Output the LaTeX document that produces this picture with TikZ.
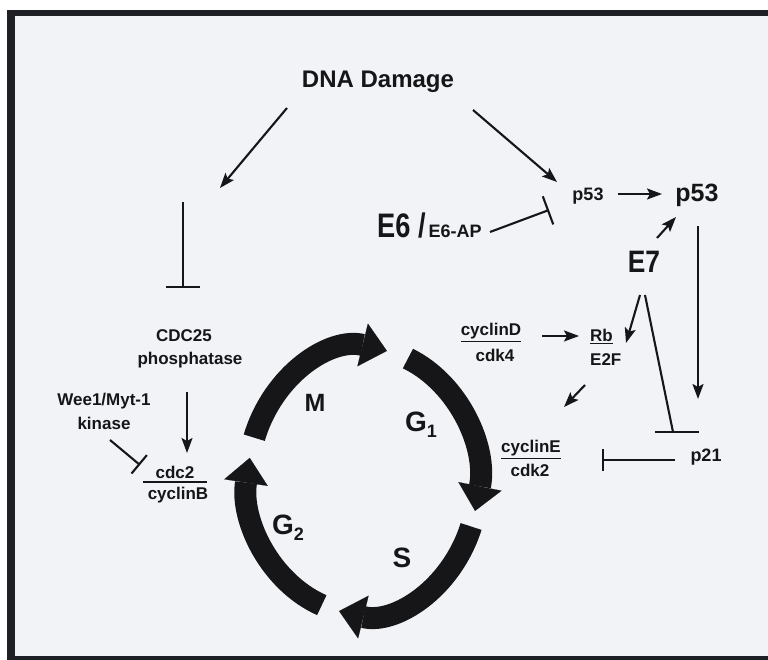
\documentclass[tikz,border=0pt]{standalone}
\usepackage{fontspec}
\setmainfont{Liberation Sans}
\usepackage{graphicx}
\usetikzlibrary{arrows.meta}
\definecolor{paper}{RGB}{241,243,246}
\definecolor{ink}{RGB}{22,22,24}
\definecolor{band}{RGB}{30,32,38}
\newcommand\fs[1]{\fontsize{#1}{#1}\selectfont}
\tikzset{
  lbl/.style={font=\bfseries, text=ink, inner sep=0pt, align=center},
  act/.style={draw=ink, line width=2.1pt, -{Stealth[length=15pt,width=11pt,inset=3pt]}},
  inh/.style={draw=ink, line width=2.1pt, -{Bar[width=#1]}},
  plain/.style={draw=ink, line width=2.1pt},
  phase/.style={draw=ink, line width=22pt, -{Triangle[length=25pt,width=44pt,line width=0.1pt]}},
}
\begin{document}
\begin{tikzpicture}[x=1pt,y=1pt]
\useasboundingbox (0,0) rectangle (768,660);
\fill[white] (-10,-10) rectangle (778,670);
\fill[paper] (7,-10) rectangle (778,650);
\fill[band] (7,644) rectangle (778,650);
\fill[band] (7,-10) rectangle (15,650);
\fill[band] (7,-10) rectangle (778,4);

% labels
\node[lbl, anchor=base] (dna) at (378,572) {\fs{24}DNA Damage};
\node[lbl, anchor=base west] (e6) at (377,422) {\fs{34}\scalebox{0.8}[1]{E6 /}\hspace{3pt}\fs{18}E6-AP};
\node[lbl, anchor=base] (p53s) at (588,459) {\fs{18}p53};
\node[lbl, anchor=base] (p53b) at (697,458) {\fs{25}p53};
\node[lbl, anchor=base] (e7) at (644,387) {\fs{31}\scalebox{0.85}[1]{E7}};
\node[lbl, anchor=base west] (rb) at (590,318) {\fs{17}\underline{Rb}};
\node[lbl, anchor=base west] (e2f) at (590,294) {\fs{17}E2F};
\node[lbl, anchor=base] (cycd) at (491,324) {\fs{17}\underline{cyclinD}};
\node[lbl, anchor=base] (cdk4) at (495,298) {\fs{17}cdk4};
\node[lbl, anchor=base] (cyce) at (531,207) {\fs{17}\underline{cyclinE}};
\node[lbl, anchor=base] (cdk2) at (530,183) {\fs{17}cdk2};
\node[lbl, anchor=base] (p21) at (706,198) {\fs{18}p21};
\node[lbl, anchor=base] (cdc25) at (184,318) {\fs{17}CDC25};
\node[lbl, anchor=base] (phos) at (190,295) {\fs{17}phosphatase};
\node[lbl, anchor=base] (wee) at (104,254) {\fs{17}Wee1/Myt-1};
\node[lbl, anchor=base] (kin) at (104,230) {\fs{17}kinase};
\node[lbl, anchor=base] (cdc2) at (175,181) {\fs{17}cdc2};
\node[lbl, anchor=base] (cycb) at (178,160) {\fs{17}cyclinB};

% phase labels
\node[lbl, anchor=base] (m) at (315,248) {\fs{25}M};
\node[lbl, anchor=base west] (g1) at (405,228) {\fs{28}G\raisebox{-6pt}{\fs{18}1}};
\node[lbl, anchor=base west] (g2) at (272,125) {\fs{28}G\raisebox{-6pt}{\fs{18}2}};
\node[lbl, anchor=base] (s) at (402,92) {\fs{28}S};

% cell cycle
\coordinate (cc) at (363,179);
\draw[phase] (cc) ++(161:115 and 133) arc[start angle=161, end angle=78, x radius=115pt, y radius=133pt];
\draw[phase] (cc) ++(67:115 and 133) arc[start angle=67, end angle=-13, x radius=115pt, y radius=133pt];
\draw[phase] (cc) ++(-20:115 and 133) arc[start angle=-20, end angle=-102, x radius=115pt, y radius=133pt];
\draw[phase] (cc) ++(-111:115 and 133) arc[start angle=-111, end angle=-190, x radius=115pt, y radius=133pt];

% connector end points
\coordinate (a1s) at (287,552); \coordinate (a1e) at (220,472);
\coordinate (t1s) at (183,458); \coordinate (t1e) at (183,372);
\coordinate (a2s) at (473,550); \coordinate (a2e) at (557,478);
\coordinate (t2s) at (490,428); \coordinate (t2e) at (549,450);
\coordinate (a3s) at (618,466); \coordinate (a3e) at (662,466);
\coordinate (a4s) at (657,422); \coordinate (a4e) at (676,443);
\coordinate (a5s) at (698,434); \coordinate (a5e) at (698,261);
\coordinate (a6s) at (640,365); \coordinate (a6e) at (626,317);
\coordinate (t3s) at (645,365); \coordinate (t3e) at (673,228);
\coordinate (b3l) at (655,228); \coordinate (b3r) at (699,228);
\coordinate (a7s) at (542,324); \coordinate (a7e) at (579,324);
\coordinate (a8s) at (585,275); \coordinate (a8e) at (564,253);
\coordinate (t4s) at (675,200); \coordinate (t4e) at (602,200);
\coordinate (a9s) at (187,268); \coordinate (a9e) at (187,207);
\coordinate (t5s) at (110,220); \coordinate (t5e) at (140,195);
\coordinate (ul1) at (143,178); \coordinate (ul2) at (207,178);

\draw[act] (a1s) -- (a1e);
\draw[inh=34pt] (t1s) -- (t1e);
\draw[act] (a2s) -- (a2e);
\draw[inh=30pt] (t2s) -- (t2e);
\draw[act] (a3s) -- (a3e);
\draw[act] (a4s) -- (a4e);
\draw[act] (a5s) -- (a5e);
\draw[act] (a6s) -- (a6e);
\draw[plain] (t3s) -- (t3e);
\draw[plain] (b3l) -- (b3r);
\draw[act] (a7s) -- (a7e);
\draw[act] (a8s) -- (a8e);
\draw[inh=22pt] (t4s) -- (t4e);
\draw[act] (a9s) -- (a9e);
\draw[inh=24pt] (t5s) -- (t5e);
\draw[draw=ink, line width=1.3pt] (ul1) -- (ul2);
\end{tikzpicture}
\end{document}
